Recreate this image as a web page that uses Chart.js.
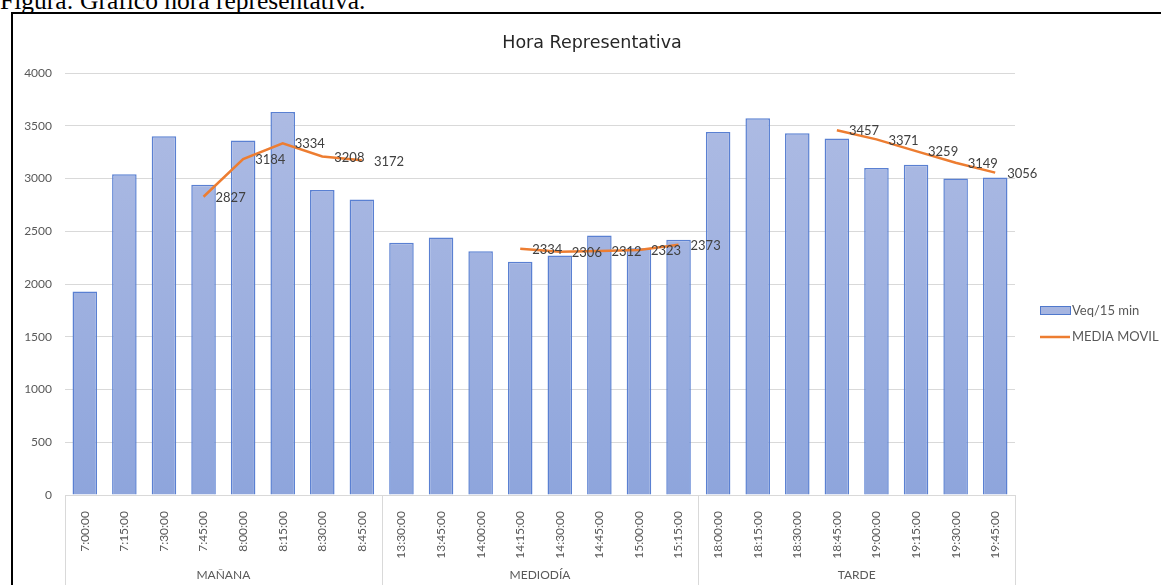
<!DOCTYPE html>
<html>
<head>
<meta charset="utf-8">
<script src="https://cdn.jsdelivr.net/npm/chart.js@4/dist/chart.umd.min.js"></script>
<style>
  body { margin: 0; background: #fff; width: 1161px; height: 585px; overflow: hidden; position: relative; }
  #caption { position: absolute; left: 0; top: -12px; font: 25.5px/25px "Liberation Serif", serif; color: #000; white-space: nowrap; }
  #marco { position: absolute; left: 11px; top: 12px; width: 1200px; height: 600px; border: 2px solid #000; }
  #wrap { position: absolute; left: 13px; top: 14px; width: 1148px; height: 571px; }
</style>
</head>
<body>
<div id="caption">Figura: Gráfico hora representativa.</div>
<div id="marco"></div>
<div id="wrap"><canvas id="grafico"></canvas></div>
<script>
// horas de cada intervalo de 15 min
var horas = ["7:00:00", "7:15:00", "7:30:00", "7:45:00", "8:00:00", "8:15:00", "8:30:00", "8:45:00",
             "13:30:00", "13:45:00", "14:00:00", "14:15:00", "14:30:00", "14:45:00", "15:00:00", "15:15:00",
             "18:00:00", "18:15:00", "18:30:00", "18:45:00", "19:00:00", "19:15:00", "19:30:00", "19:45:00"];

var grupos = ["MAÑANA", "MEDIODÍA", "TARDE"];
var tamGrupos = [8, 8, 8];

// vehiculos equivalentes por 15 min
var veq = [1930, 3040, 3400, 2940, 3360, 3630, 2890, 2800,
           2390, 2440, 2310, 2210, 2270, 2460, 2340, 2420,
           3440, 3570, 3430, 3380, 3100, 3130, 3000, 3010];

// media movil (4 periodos)
var mediaMovil = [null, null, null, 2827, 3184, 3334, 3208, 3172,
                  null, null, null, 2334, 2306, 2312, 2323, 2373,
                  null, null, null, 3457, 3371, 3259, 3149, 3056];

var ticksY = [0, 500, 1000, 1500, 2000, 2500, 3000, 3500, 4000];

var gris = '#595959';

// etiquetas de la media movil a la derecha del punto
var etiquetas = {
    id: 'etiquetas',
    afterDatasetsDraw: function(chart) {
        var ctx = chart.ctx;
        var meta = chart.getDatasetMeta(1);
        ctx.save();
        ctx.font = '13px Lato';
        ctx.fillStyle = '#404040';
        ctx.textAlign = 'left';
        ctx.textBaseline = 'middle';
        meta.data.forEach(function(p, i) {
            if (mediaMovil[i] === null) return;
            ctx.fillText(String(mediaMovil[i]), p.x + 12, p.y + 1);
        });
        ctx.restore();
    }
};

// titulo, segundo nivel del eje x (grupos) y leyenda
var extras = {
    id: 'extras',
    afterDraw: function(chart) {
        var ctx = chart.ctx;
        var x = chart.scales.x;
        var area = chart.chartArea;
        var paso = x.getPixelForValue(1) - x.getPixelForValue(0);
        ctx.save();

        ctx.font = '17.5px "DejaVu Sans"';
        ctx.fillStyle = '#262626';
        ctx.textAlign = 'center';
        ctx.textBaseline = 'middle';
        ctx.fillText('Hora Representativa', 579, 29);

        ctx.strokeStyle = '#D9D9D9';
        ctx.lineWidth = 1;
        ctx.font = '12px Lato';
        ctx.fillStyle = gris;
        var ini = 0;
        for (var g = 0; g < grupos.length; g++) {
            var fin = ini + tamGrupos[g] - 1;
            var x0 = x.getPixelForValue(ini) - paso / 2;
            var x1 = x.getPixelForValue(fin) + paso / 2;
            [x0, x1].forEach(function(xx) {
                ctx.beginPath();
                ctx.moveTo(Math.round(xx) + 0.5, area.bottom);
                ctx.lineTo(Math.round(xx) + 0.5, chart.height);
                ctx.stroke();
            });
            ctx.fillText(grupos[g], (x0 + x1) / 2, 561);
            ini = fin + 1;
        }

        // leyenda
        var lx = area.right + 25;
        ctx.textAlign = 'left';
        ctx.font = '13px Lato';
        ctx.fillStyle = '#A6B5E0';
        ctx.strokeStyle = '#4F78CC';
        ctx.fillRect(lx, 292, 30, 8);
        ctx.strokeRect(lx + 0.5, 292.5, 30, 8);
        ctx.fillStyle = gris;
        ctx.fillText('Veq/15 min', lx + 32, 297);
        ctx.strokeStyle = '#ED7D31';
        ctx.lineWidth = 2.5;
        ctx.beginPath();
        ctx.moveTo(lx, 323);
        ctx.lineTo(lx + 30, 323);
        ctx.stroke();
        ctx.fillText('MEDIA MOVIL', lx + 32, 323);
        ctx.restore();
    }
};

var ctx = document.getElementById('grafico').getContext('2d');
var chart = new Chart(ctx, {
    data: {
        labels: horas,
        datasets: [{
            type: 'bar',
            label: 'Veq/15 min',
            data: veq,
            backgroundColor: function(c) {
                var a = c.chart.chartArea;
                if (!a) return '#A0B2E0';
                var grad = c.chart.ctx.createLinearGradient(0, a.top, 0, a.bottom);
                grad.addColorStop(0, '#B0BDE4');
                grad.addColorStop(1, '#8EA5DC');
                return grad;
            },
            borderColor: '#5A80D2',
            borderWidth: 1.5,
            barPercentage: 0.62,
            categoryPercentage: 1,
            order: 2
        }, {
            type: 'line',
            label: 'MEDIA MOVIL',
            data: mediaMovil,
            borderColor: '#ED7D31',
            borderWidth: 2.5,
            pointRadius: 0,
            spanGaps: false,
            tension: 0,
            order: 1
        }]
    },
    options: {
        responsive: true,
        maintainAspectRatio: false,
        animation: false,
        layout: { padding: { left: 0, right: 146, top: 59, bottom: 0 } },
        plugins: {
            legend: { display: false },
            tooltip: { enabled: false }
        },
        scales: {
            x: {
                grid: { display: false },
                border: { display: true, color: '#D9D9D9' },
                ticks: {
                    autoSkip: false, maxRotation: 90, minRotation: 90,
                    color: gris, font: { family: 'Lato', size: 12 }, padding: 8
                },
                afterFit: function(s) { s.height = 90; }
            },
            y: {
                min: 0, max: 4000,
                afterBuildTicks: function(s) { s.ticks = ticksY.map(function(v) { return { value: v }; }); },
                grid: { color: '#D9D9D9', drawTicks: false },
                border: { display: false },
                ticks: {
                    color: gris, font: { family: 'Lato', size: 12 }, padding: 13,
                    callback: function(v) { return String(v); }
                },
                afterFit: function(s) { s.width = 52; }
            }
        }
    },
    plugins: [etiquetas, extras]
});
</script>
</body>
</html>
